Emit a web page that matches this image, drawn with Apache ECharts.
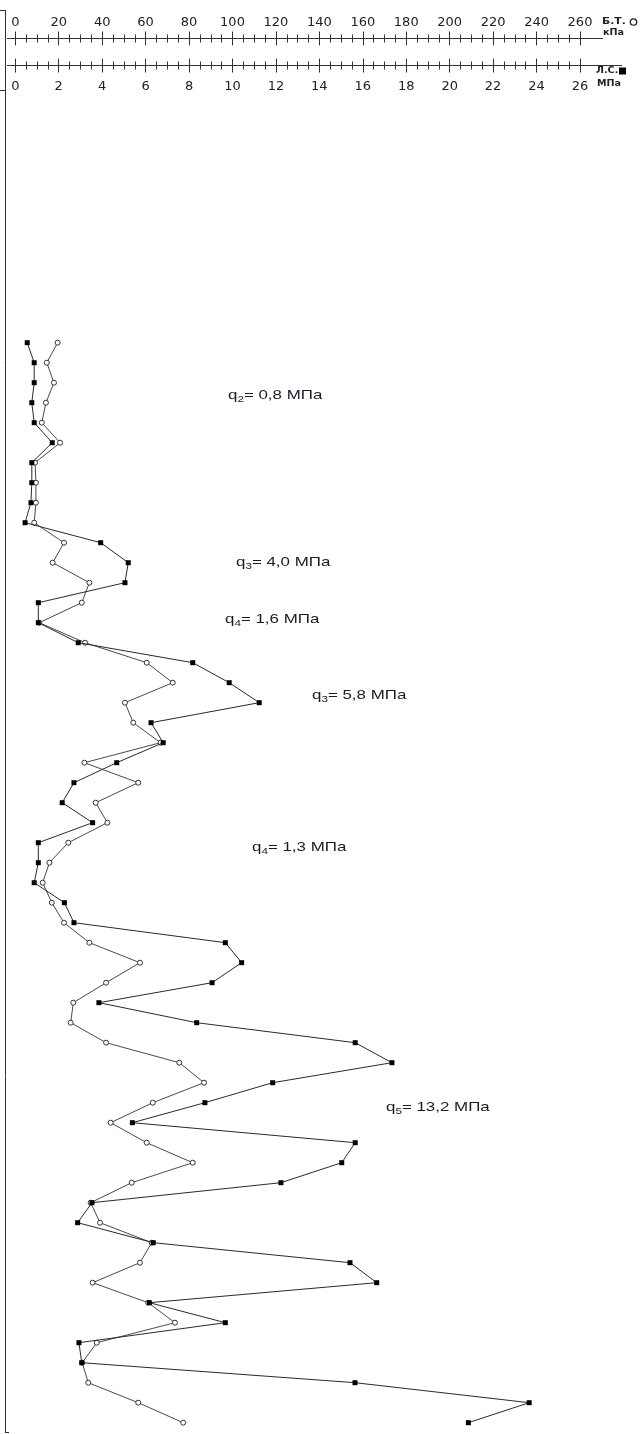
<!DOCTYPE html>
<html>
<head>
<meta charset="utf-8">
<script src="https://cdn.jsdelivr.net/npm/echarts@6/dist/echarts.min.js"></script>
<style>
html,body{margin:0;padding:0;background:#fff;}
#chart{width:644px;height:1434px;}
</style>
</head>
<body>
<div id="chart"></div>
<script>
// Depth levels (m), one per measurement row
const depths = [2.6,2.8,3.0,3.2,3.4,3.6,3.8,4.0,4.2,4.4,
                4.6,4.8,5.0,5.2,5.4,5.6,5.8,6.0,6.2,6.4,
                6.6,6.8,7.0,7.2,7.4,7.6,7.8,8.0,8.2,8.4,
                8.6,8.8,9.0,9.2,9.4,9.6,9.8,10.0,10.2,10.4,
                10.6,10.8,11.0,11.2,11.4,11.6,11.8,12.0,12.2,12.4,
                12.6,12.8,13.0,13.2,13.4];
// Б.Т. (sleeve friction), kPa — open circles
const sleeveKPa = [19.5,14.5,17.8,14.1,12.2,20.6,9.1,9.5,9.5,8.7,
                   22.4,17.2,34.1,30.6,11.0,32.1,60.5,72.5,50.5,54.3,
                   66.9,31.8,56.6,37.0,42.4,24.4,15.7,12.6,16.8,22.4,
                   34.1,57.4,41.8,26.7,25.5,41.8,75.5,86.9,63.3,43.9,
                   60.5,81.7,53.6,34.7,39.0,62.8,57.4,35.6,61.2,73.5,
                   37.5,30.8,33.6,56.6,77.3];
// Л.С. (cone resistance), MPa — black squares
const coneMPa = [0.55,0.87,0.87,0.76,0.87,1.70,0.76,0.76,0.72,0.45,
                 3.93,5.20,5.05,1.06,1.06,2.90,8.17,9.85,11.23,6.25,
                 6.81,4.67,2.70,2.16,3.56,1.06,1.06,0.87,2.26,2.70,
                 9.67,10.42,9.06,3.85,8.35,15.65,17.34,11.85,8.73,5.39,
                 15.65,15.03,12.23,3.53,2.87,6.35,15.41,16.64,6.17,9.67,
                 2.93,3.06,15.64,23.66,20.86];
// Axis tick labels
const kpaTicks = [0,20,40,60,80,100,120,140,160,180,200,220,240,260];
const mpaTicks = [0,2,4,6,8,10,12,14,16,18,20,22,24,26];
// Layer annotations
const layerSub = ['2','3','4','3','4','5'];
const layerVal = ['0,8','4,0','1,6','5,8','1,3','13,2'];

const annPos = [[228,395],[236,562],[225,619],[312,695],[252,847],[386,1107]];

const chart = echarts.init(document.getElementById('chart'), null, {renderer:'canvas'});
const axisCol = '#333';
const font = 'DejaVu Sans';

function xAx(max, interval, offset, opts) {
  return Object.assign({
    type:'value', position:'top', min:0, max:max, interval:interval, offset:offset,
    axisLine:{show:false, onZero:false, lineStyle:{color:axisCol,width:1}},
    splitLine:{show:false},
    axisTick:{show:true, inside:false, length:7, lineStyle:{color:axisCol,width:1}},
    minorTick:{show:true, splitNumber:4, length:4, lineStyle:{color:axisCol,width:1}},
    axisLabel:{show:false}
  }, opts);
}

const option = {
  animation:false,
  backgroundColor:'#fff',
  grid:{left:15.3, right:64, top:82.7, bottom:1.3, containLabel:false},
  xAxis:[
    xAx(260, 20, 44.2, {axisLine:{show:true,onZero:false,lineStyle:{color:axisCol}},
      axisLabel:{show:true, margin:9, color:'#222', fontFamily:font, fontSize:13,
        formatter:v=> kpaTicks.indexOf(v)>=0 ? String(v) : ''}}),
    xAx(260, 20, 44.2, {axisTick:{show:true,inside:true,length:7,lineStyle:{color:axisCol}},
      minorTick:{show:true,splitNumber:4,length:4,lineStyle:{color:axisCol}}}),
    xAx(26, 2, 17.2, {axisLine:{show:true,onZero:false,lineStyle:{color:axisCol}},
      axisLabel:{show:true, inside:true, margin:15, color:'#222', fontFamily:font, fontSize:13,
        formatter:v=> mpaTicks.indexOf(v)>=0 ? String(v) : ''}}),
    xAx(26, 2, 17.2, {axisTick:{show:true,inside:true,length:7,lineStyle:{color:axisCol}},
      minorTick:{show:true,splitNumber:4,length:4,lineStyle:{color:axisCol}}})
  ],
  yAxis:{type:'value', inverse:true, min:0, max:13.5, show:false, axisLine:{onZero:false}},
  series:[
    {
      name:'Б.Т.', type:'line', xAxisIndex:0,
      data: depths.map((d,i)=>[sleeveKPa[i], d]),
      symbol:'circle', symbolSize:5,
      lineStyle:{color:'#4a4a4a', width:1},
      itemStyle:{color:'#fff', borderColor:'#333', borderWidth:1},
      z:2
    },
    {
      name:'Л.С.', type:'line', xAxisIndex:2,
      data: depths.map((d,i)=>[coneMPa[i], d]),
      symbol:'rect', symbolSize:5,
      lineStyle:{color:'#2a2a2a', width:1},
      itemStyle:{color:'#000', borderColor:'#000', borderWidth:0},
      z:3
    }
  ],
  graphic:[
    // frame on the left
    {type:'line', shape:{x1:5.5,y1:10,x2:5.5,y2:1432}, style:{stroke:'#333',lineWidth:1}},
    {type:'line', shape:{x1:0,y1:10.5,x2:6,y2:10.5}, style:{stroke:'#333',lineWidth:1}},
    {type:'line', shape:{x1:0,y1:90.5,x2:6,y2:90.5}, style:{stroke:'#333',lineWidth:1}},
    {type:'line', shape:{x1:5,y1:1432.5,x2:9,y2:1432.5}, style:{stroke:'#333',lineWidth:1}},
    // axis line extensions
    {type:'line', shape:{x1:7,y1:38.5,x2:16,y2:38.5}, style:{stroke:axisCol,lineWidth:1}},
    {type:'line', shape:{x1:580,y1:38.5,x2:603,y2:38.5}, style:{stroke:axisCol,lineWidth:1}},
    {type:'line', shape:{x1:7,y1:65.5,x2:16,y2:65.5}, style:{stroke:axisCol,lineWidth:1}},
    {type:'line', shape:{x1:580,y1:65.5,x2:622,y2:65.5}, style:{stroke:axisCol,lineWidth:1}},
    // legend texts
    {type:'text', x:602, y:18, scaleX:1.35, style:{text:'Б.Т.', font:'bold 8px DejaVu Sans', fill:'#222'}},
    {type:'circle', shape:{cx:633.5, cy:22, r:3.2}, style:{fill:'#fff', stroke:'#222', lineWidth:1.3}},
    {type:'text', x:603, y:29, scaleX:1.2, style:{text:'кПа', font:'bold 8px DejaVu Sans', fill:'#222'}},
    {type:'text', x:596, y:67, scaleX:1.2, style:{text:'Л.С.', font:'bold 8px DejaVu Sans', fill:'#222'}},
    {type:'rect', shape:{x:619, y:67.5, width:7, height:7}, style:{fill:'#000'}},
    {type:'text', x:597, y:80, scaleX:1.2, style:{text:'МПа', font:'bold 8px DejaVu Sans', fill:'#222'}}
  ].concat(layerSub.map((s,i)=>({
    type:'text', x:annPos[i][0], y:annPos[i][1]-9, scaleX:1.3,
    style:{
      text:'{q|q}{s|'+s+'}{t|= '+layerVal[i]+' МПа}',
      rich:{
        q:{fontFamily:'Liberation Sans', fontSize:13, fill:'#1a1a2a', lineHeight:18},
        s:{fontFamily:'Liberation Sans', fontSize:9, fill:'#1a1a2a', lineHeight:8, padding:[10,0,0,0]},
        t:{fontFamily:'Liberation Sans', fontSize:13, fill:'#1a1a2a', lineHeight:18}
      }
    }
  })))
};
chart.setOption(option);
</script>
</body>
</html>
